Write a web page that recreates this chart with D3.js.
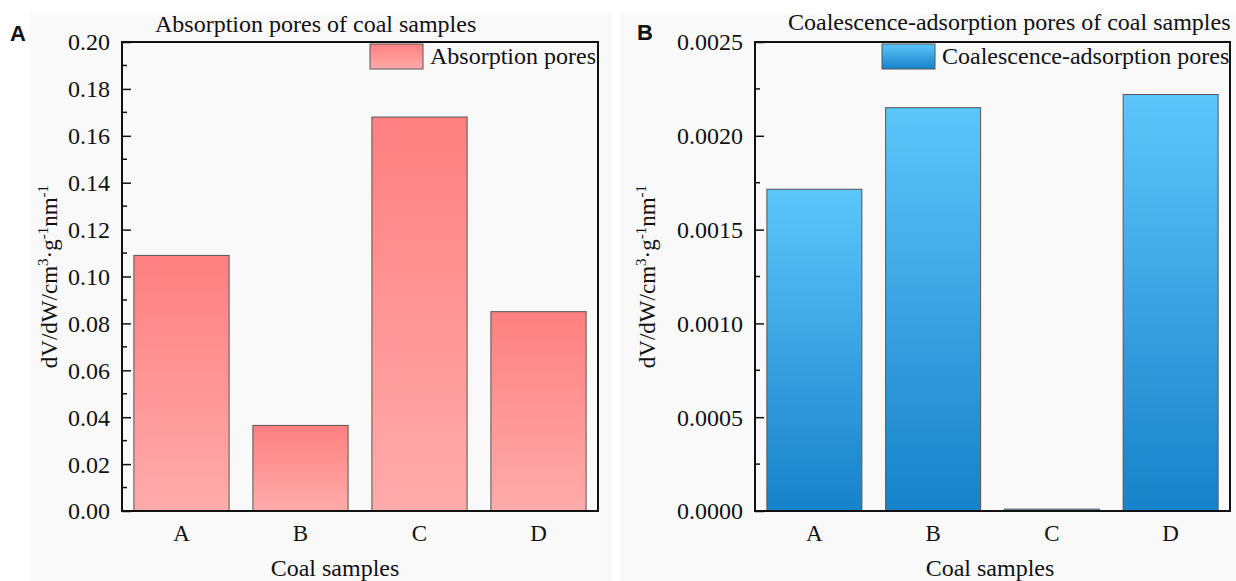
<!DOCTYPE html>
<html>
<head>
<meta charset="utf-8">
<script src="https://cdn.jsdelivr.net/npm/d3@7"></script>
<style>
  body { margin: 0; background: #ffffff; }
  text { font-family: "Times New Roman", "Liberation Serif", serif; fill: #111; }
</style>
</head>
<body>
<svg width="1236" height="581"></svg>
<script>
var categories = ["A", "B", "C", "D"];
var absorptionValues = [0.109, 0.0365, 0.168, 0.085];
var coalescenceValues = [0.001715, 0.00215, 0.00001, 0.00222];
var absorptionTicks = [0, 0.02, 0.04, 0.06, 0.08, 0.10, 0.12, 0.14, 0.16, 0.18, 0.20];
var coalescenceTicks = [0, 0.0005, 0.0010, 0.0015, 0.0020, 0.0025];

var svg = d3.select("svg");
var defs = svg.append("defs");

function gradient(id, c0, c1) {
  var lg = defs.append("linearGradient")
    .attr("id", id)
    .attr("x1", 0).attr("y1", 0).attr("x2", 0).attr("y2", 1);
  lg.append("stop").attr("offset", "0%").attr("stop-color", c0);
  lg.append("stop").attr("offset", "100%").attr("stop-color", c1);
}
gradient("redGrad", "#ff8080", "#ffabab");
gradient("blueGrad", "#5cc6fb", "#1682c9");

// light grey panel backgrounds
svg.append("rect").attr("x", 30).attr("y", 13).attr("width", 582).attr("height", 568).attr("fill", "#f9f9f9");
svg.append("rect").attr("x", 620).attr("y", 13).attr("width", 616).attr("height", 568).attr("fill", "#f9f9f9");

var panels = [{
  letter: "A", letterX: 10, letterY: 41,
  title: "Absorption pores of coal samples", titleX: 155, titleY: 32,
  legend: "Absorption pores", legendX: 370,
  values: absorptionValues, ticks: absorptionTicks, max: 0.2, fmt: ".2f",
  left: 122, right: 598, fill: "url(#redGrad)",
  yTitleX: 57, xTitleX: 335
}, {
  letter: "B", letterX: 637, letterY: 40,
  title: "Coalescence-adsorption pores of coal samples", titleX: 788, titleY: 30,
  legend: "Coalescence-adsorption pores", legendX: 882,
  values: coalescenceValues, ticks: coalescenceTicks, max: 0.0025, fmt: ".4f",
  left: 755, right: 1230, fill: "url(#blueGrad)",
  yTitleX: 655, xTitleX: 990
}];

var plotTop = 42, plotBottom = 511;

panels.forEach(function(p) {
  var x = d3.scaleBand().domain(categories).range([p.left, p.right])
    .paddingInner(0.2).paddingOuter(0.1);
  var y = d3.scaleLinear().domain([0, p.max]).range([plotBottom, plotTop]);
  var g = svg.append("g");

  // bars
  g.selectAll(".bar")
    .data(p.values)
    .enter().append("rect")
    .attr("x", function(d, i) { return x(categories[i]); })
    .attr("y", function(d) { return y(d); })
    .attr("width", x.bandwidth())
    .attr("height", function(d) { return plotBottom - y(d); })
    .attr("fill", p.fill)
    .attr("stroke", "#555")
    .attr("stroke-width", 1);

  // minor ticks between the major ones
  var step = p.ticks[1] - p.ticks[0];
  var minor = p.ticks.slice(0, -1).map(function(t) { return t + step / 2; });
  g.selectAll(".minor")
    .data(minor)
    .enter().append("line")
    .attr("x1", p.left).attr("x2", p.left + 5)
    .attr("y1", function(d) { return y(d); })
    .attr("y2", function(d) { return y(d); })
    .attr("stroke", "#111").attr("stroke-width", 1.5);

  var yAxis = g.append("g")
    .attr("transform", "translate(" + p.left + ",0)")
    .call(d3.axisRight(y).tickValues(p.ticks).tickSize(9).tickFormat(""));
  yAxis.select(".domain").remove();
  yAxis.selectAll("line").attr("stroke", "#111").attr("stroke-width", 1.5);

  g.selectAll(".ylab")
    .data(p.ticks)
    .enter().append("text")
    .attr("x", p.left - 12)
    .attr("y", function(d) { return y(d); })
    .attr("dy", "0.35em")
    .attr("text-anchor", "end")
    .attr("font-size", 24)
    .text(function(d) { return d3.format(p.fmt)(d); });

  // category labels
  g.selectAll(".xlab")
    .data(categories)
    .enter().append("text")
    .attr("x", function(d) { return x(d) + x.bandwidth() / 2; })
    .attr("y", 541)
    .attr("text-anchor", "middle")
    .attr("font-size", 23)
    .text(function(d) { return d; });

  // frame
  g.append("rect")
    .attr("x", p.left).attr("y", plotTop)
    .attr("width", p.right - p.left).attr("height", plotBottom - plotTop)
    .attr("fill", "none").attr("stroke", "#111").attr("stroke-width", 2);

  // legend
  g.append("rect")
    .attr("x", p.legendX).attr("y", 44).attr("width", 53).attr("height", 25)
    .attr("fill", p.fill).attr("stroke", "#555").attr("stroke-width", 1);
  g.append("text")
    .attr("x", p.legendX + 60).attr("y", 64)
    .attr("font-size", 24)
    .text(p.legend);

  // titles
  g.append("text")
    .attr("x", p.titleX).attr("y", p.titleY)
    .attr("font-size", 24)
    .text(p.title);

  g.append("text")
    .attr("x", p.xTitleX).attr("y", 576)
    .attr("text-anchor", "middle")
    .attr("font-size", 24)
    .text("Coal samples");

  var yt = g.append("text")
    .attr("transform", "translate(" + p.yTitleX + "," + (plotTop + plotBottom) / 2 + ") rotate(-90)")
    .attr("text-anchor", "middle")
    .attr("font-size", 23);
  yt.append("tspan").text("dV/dW/cm");
  yt.append("tspan").attr("dy", -9).attr("font-size", 15).text("3");
  yt.append("tspan").attr("dy", 9).text("·g");
  yt.append("tspan").attr("dy", -9).attr("font-size", 15).text("-1");
  yt.append("tspan").attr("dy", 9).text("nm");
  yt.append("tspan").attr("dy", -9).attr("font-size", 15).text("-1");

  svg.append("text")
    .attr("x", p.letterX).attr("y", p.letterY)
    .style("font-family", "Arial, 'Liberation Sans', sans-serif")
    .attr("font-weight", "bold")
    .attr("font-size", 22)
    .text(p.letter);
});
</script>
</body>
</html>
